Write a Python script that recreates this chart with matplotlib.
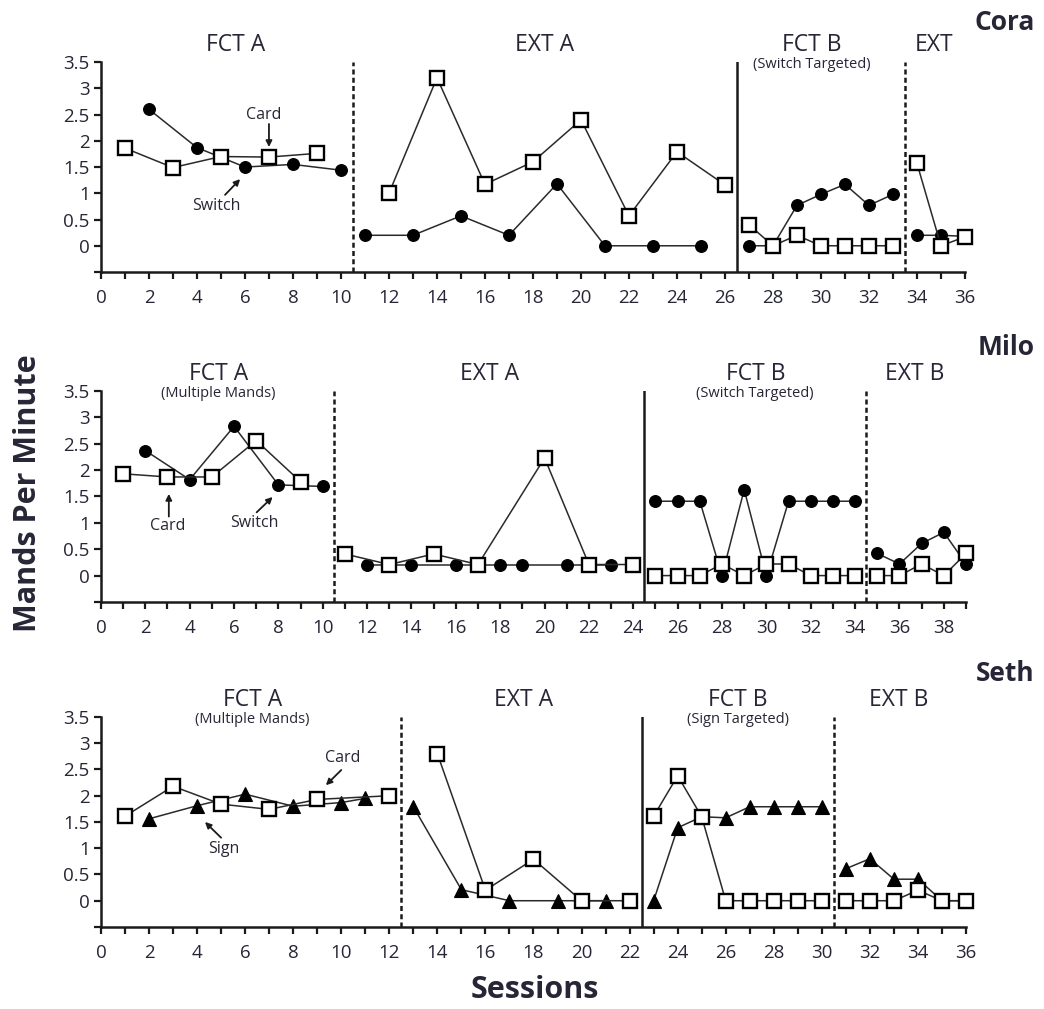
import numpy as np
import matplotlib
matplotlib.use("Agg")
import matplotlib.pyplot as plt
import matplotlib.transforms as mtransforms

plt.rcParams['font.family'] = ['Open Sans', 'DejaVu Sans']

TXT = '#262636'
LN = '#2a2a2a'

# ---- Cora ----
cora_card_x = [1, 3, 5, 7, 9, 12, 14, 16, 18, 20, 22, 24, 26,
               27, 28, 29, 30, 31, 32, 33, 34, 35, 36]
cora_card_y = [1.86, 1.49, 1.70, 1.69, 1.76, 1.0, 3.2, 1.17, 1.6, 2.4, 0.57, 1.79, 1.16,
               0.4, 0, 0.2, 0, 0, 0, 0, 1.57, 0, 0.17]
cora_switch_x = [2, 4, 6, 8, 10, 11, 13, 15, 17, 19, 21, 23, 25,
                 27, 28, 29, 30, 31, 32, 33, 34, 35, 36]
cora_switch_y = [2.6, 1.87, 1.5, 1.55, 1.44, 0.2, 0.2, 0.57, 0.2, 1.18, 0, 0, 0,
                 0, 0, 0.77, 0.98, 1.17, 0.77, 0.98, 0.2, 0.2, 0.18]
cora_breaks = [10.5, 26.5, 33.5]
cora_phases = ['FCT A', 'EXT A', 'FCT B', 'EXT']
cora_notes = ['', '', '(Switch Targeted)', '']

# ---- Milo ----
milo_card_x = [1, 3, 5, 7, 9, 11, 13, 15, 17, 20, 22, 24,
               25, 26, 27, 28, 29, 30, 31, 32, 33, 34, 35, 36, 37, 38, 39]
milo_card_y = [1.93, 1.87, 1.87, 2.56, 1.78, 0.41, 0.21, 0.41, 0.21, 2.23, 0.21, 0.21,
               0, 0, 0, 0.22, 0, 0.22, 0.22, 0, 0, 0, 0, 0, 0.22, 0, 0.42]
milo_switch_x = [2, 4, 6, 8, 10, 12, 14, 16, 18, 19, 21, 23,
                 25, 26, 27, 28, 29, 30, 31, 32, 33, 34, 35, 36, 37, 38, 39]
milo_switch_y = [2.37, 1.82, 2.83, 1.72, 1.69, 0.21, 0.21, 0.21, 0.21, 0.21, 0.21, 0.21,
                 1.41, 1.41, 1.41, 0, 1.63, 0, 1.41, 1.41, 1.41, 1.41, 0.42, 0.22, 0.61, 0.82, 0.22]
milo_breaks = [10.5, 24.5, 34.5]
milo_phases = ['FCT A', 'EXT A', 'FCT B', 'EXT B']
milo_notes = ['(Multiple Mands)', '', '(Switch Targeted)', '']

# ---- Seth ----
seth_card_x = [1, 3, 5, 7, 9, 12, 14, 16, 18, 20, 22,
               23, 24, 25, 26, 27, 28, 29, 30, 31, 32, 33, 34, 35, 36]
seth_card_y = [1.61, 2.18, 1.84, 1.74, 1.93, 2.0, 2.8, 0.2, 0.79, 0, 0,
               1.61, 2.38, 1.6, 0, 0, 0, 0, 0, 0, 0, 0, 0.2, 0, 0]
seth_sign_x = [2, 4, 6, 8, 10, 11, 13, 15, 17, 19, 21,
               23, 24, 25, 26, 27, 28, 29, 30, 31, 32, 33, 34, 35, 36]
seth_sign_y = [1.56, 1.81, 2.03, 1.80, 1.87, 1.95, 1.79, 0.21, 0, 0, 0,
               0, 1.39, 1.6, 1.58, 1.79, 1.79, 1.79, 1.79, 0.61, 0.8, 0.41, 0.41, 0, 0]
seth_breaks = [12.5, 22.5, 30.5]
seth_phases = ['FCT A', 'EXT A', 'FCT B', 'EXT B']
seth_notes = ['(Multiple Mands)', '', '(Sign Targeted)', '']


def draw_series(ax, xs, ys, breaks, marker, face, ms, z):
    xs = np.asarray(xs, float)
    ys = np.asarray(ys, float)
    edges = [-np.inf] + list(breaks) + [np.inf]
    for lo, hi in zip(edges[:-1], edges[1:]):
        m = (xs > lo) & (xs < hi)
        ax.plot(xs[m], ys[m], color=LN, lw=1.1, marker=marker, ms=ms,
                mfc=face, mec='black', mew=1.7 if face == 'white' else 0.8,
                zorder=z, clip_on=False)


def setup(ax, xmax, breaks, phases, notes, label_x):
    ax.set_xlim(0, xmax)
    ax.set_ylim(-0.5, 3.5)
    for s in ['top', 'right']:
        ax.spines[s].set_visible(False)
    for s in ['left', 'bottom']:
        ax.spines[s].set_linewidth(1.8)
        ax.spines[s].set_color('#1a1a1a')
    ax.set_xticks(np.arange(0, xmax + 1))
    ax.set_xticklabels([str(v) if v % 2 == 0 else '' for v in range(0, xmax + 1)])
    yt = np.arange(-0.5, 3.51, 0.5)
    ax.set_yticks(yt)
    ax.set_yticklabels(['' if v < 0 else ('%g' % v) for v in yt])
    ax.tick_params(direction='out', length=5, width=1.6, color='#1a1a1a',
                   labelsize=13.5, labelcolor=TXT, pad=3)
    ax.tick_params(axis='x', pad=7)
    for i, b in enumerate(breaks):
        if i == 1:
            ax.axvline(b, color='#1a1a1a', lw=1.8)
        else:
            ax.axvline(b, color='#1a1a1a', lw=1.8, ls=(0, (2.0, 1.3)))
    tr = mtransforms.blended_transform_factory(ax.transData, ax.transAxes)
    for x, p, n in zip(label_x, phases, notes):
        ax.text(x, 1.08, p, transform=tr, ha='center', va='center',
                fontsize=16.5, color=TXT)
        if n:
            ax.text(x, 0.99, n, transform=tr, ha='center', va='center',
                    fontsize=10.5, color=TXT)


def arrow(ax, tail, head):
    ax.annotate('', xy=head, xytext=tail,
                arrowprops=dict(arrowstyle='-|>', color='#1a1a1a', lw=1.3,
                                mutation_scale=9, shrinkA=0, shrinkB=0))


fig = plt.figure(figsize=(10.44, 10.09), dpi=100)
ax1 = fig.add_axes([0.0967, 0.7304, 0.8276, 0.2081])
ax2 = fig.add_axes([0.0967, 0.4034, 0.8286, 0.2091])
ax3 = fig.add_axes([0.0967, 0.0813, 0.8286, 0.2081])

# Cora
setup(ax1, 36, cora_breaks, cora_phases, cora_notes, [5.6, 18.5, 29.6, 34.7])
draw_series(ax1, cora_switch_x, cora_switch_y, cora_breaks, 'o', 'black', 8.5, 3)
draw_series(ax1, cora_card_x, cora_card_y, cora_breaks, 's', 'white', 9.5, 4)
ax1.text(6.8, 2.49, 'Card', ha='center', va='center', fontsize=11.5, color=TXT)
arrow(ax1, (7.0, 2.32), (7.0, 1.88))
ax1.text(4.8, 0.75, 'Switch', ha='center', va='center', fontsize=11.5, color=TXT)
arrow(ax1, (5.17, 0.97), (5.8, 1.27))

# Milo
setup(ax2, 39, milo_breaks, milo_phases, milo_notes, [5.3, 17.5, 29.5, 36.7])
draw_series(ax2, milo_switch_x, milo_switch_y, milo_breaks, 'o', 'black', 8.5, 3)
draw_series(ax2, milo_card_x, milo_card_y, milo_breaks, 's', 'white', 9.5, 4)
ax2.text(3.0, 0.94, 'Card', ha='center', va='center', fontsize=11.5, color=TXT)
arrow(ax2, (3.06, 1.12), (3.06, 1.55))
ax2.text(6.9, 1.0, 'Switch', ha='center', va='center', fontsize=11.5, color=TXT)
arrow(ax2, (7.02, 1.2), (7.74, 1.49))

# Seth
setup(ax3, 36, seth_breaks, seth_phases, seth_notes, [6.3, 17.6, 26.5, 33.2])
draw_series(ax3, seth_sign_x, seth_sign_y, seth_breaks, '^', 'black', 9.5, 3)
draw_series(ax3, seth_card_x, seth_card_y, seth_breaks, 's', 'white', 9.5, 4)
ax3.text(10.04, 2.71, 'Card', ha='center', va='center', fontsize=11.5, color=TXT)
arrow(ax3, (10.0, 2.49), (9.36, 2.2))
ax3.text(5.12, 0.99, 'Sign', ha='center', va='center', fontsize=11.5, color=TXT)
arrow(ax3, (5.0, 1.2), (4.33, 1.5))

fig.text(0.991, 0.978, 'Cora', ha='right', va='center', fontsize=19, fontweight='bold', color=TXT)
fig.text(0.991, 0.656, 'Milo', ha='right', va='center', fontsize=19, fontweight='bold', color=TXT)
fig.text(0.991, 0.333, 'Seth', ha='right', va='center', fontsize=19, fontweight='bold', color=TXT)

fig.text(0.027, 0.511, 'Mands Per Minute', rotation=90, ha='center', va='center',
         fontsize=22, fontweight='bold', color=TXT)
fig.text(0.512, 0.019, 'Sessions', ha='center', va='center',
         fontsize=22, fontweight='bold', color=TXT)

fig.savefig('out.png', dpi=100)
